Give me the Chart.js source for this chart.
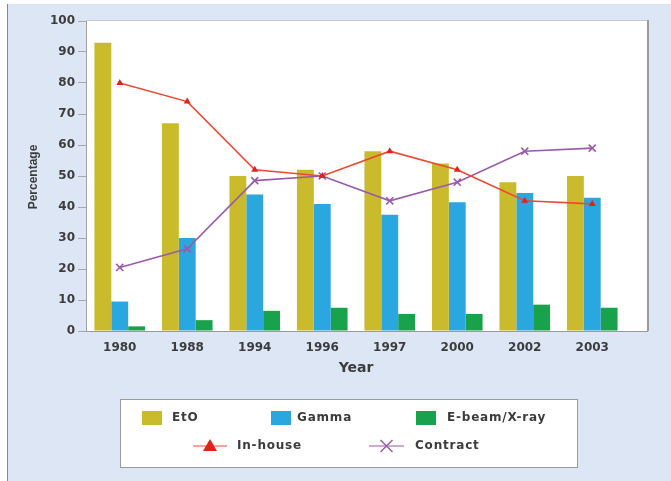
<!DOCTYPE html>
<html>
<head>
<meta charset="utf-8">
<script src="https://cdn.jsdelivr.net/npm/chart.js@4/dist/chart.umd.min.js"></script>
<style>
  html, body { margin: 0; padding: 0; background: #fff; }
  #wrap { width: 671px; height: 481px; }
</style>
</head>
<body>
<div id="wrap"><canvas id="sterilChart" width="671" height="481"></canvas></div>
<script>
// data
const years = ['1980', '1988', '1994', '1996', '1997', '2000', '2002', '2003'];
const etoShare = [93, 67, 50, 52, 58, 54, 48, 50];
const gammaShare = [9.5, 30, 44, 41, 37.5, 41.5, 44.5, 43];
const ebeamShare = [1.5, 3.5, 6.5, 7.5, 5.5, 5.5, 8.5, 7.5];
const inHouse = [80, 74, 52, 50, 58, 52, 42, 41];
const contract = [20.5, 26.5, 48.5, 50, 42, 48, 58, 59];
const yTicks = [0, 10, 20, 30, 40, 50, 60, 70, 80, 90, 100];

const textColor = '#3c3c3c';
const tickFont = { family: 'DejaVu Sans', size: 12, weight: 'bold' };

// page background, plot box, axis titles and the boxed legend
const decor = {
  id: 'decor',
  beforeDraw(chart) {
    const ctx = chart.ctx;
    const area = chart.chartArea;
    ctx.save();
    ctx.fillStyle = '#ffffff';
    ctx.fillRect(0, 0, 671, 481);
    ctx.fillStyle = '#dce6f5';
    ctx.fillRect(8, 4, 663, 477);
    ctx.strokeStyle = '#8a8a8a';
    ctx.lineWidth = 1;
    ctx.beginPath();
    ctx.moveTo(7.5, 4);
    ctx.lineTo(7.5, 481);
    ctx.stroke();

    // white plot box, wider on the right than the category range
    ctx.fillStyle = '#ffffff';
    ctx.fillRect(area.left, area.top - 1, 648 - area.left, area.bottom - area.top + 1);
    ctx.strokeStyle = '#c4c8cc';
    ctx.beginPath();
    ctx.moveTo(area.left, area.top - 0.5);
    ctx.lineTo(648, area.top - 0.5);
    ctx.stroke();
    ctx.strokeStyle = '#9a9a9a';
    ctx.lineWidth = 2;
    ctx.beginPath();
    ctx.moveTo(648, area.top - 1);
    ctx.lineTo(648, area.bottom);
    ctx.stroke();
    ctx.lineWidth = 1;
    ctx.beginPath();
    ctx.moveTo(area.left, area.bottom + 0.5);
    ctx.lineTo(648, area.bottom + 0.5);
    ctx.stroke();

    // axis titles
    ctx.fillStyle = textColor;
    ctx.textAlign = 'center';
    ctx.textBaseline = 'middle';
    ctx.font = 'bold 14px "DejaVu Sans"';
    ctx.fillText('Year', 356, 368);
    ctx.save();
    ctx.translate(34, 177);
    ctx.rotate(-Math.PI / 2);
    ctx.font = 'bold 12px "Liberation Sans"';
    ctx.fillText('Percentage', 0, 0);
    ctx.restore();
    ctx.restore();
  },
  afterDraw(chart) {
    const ctx = chart.ctx;
    const ds = chart.data.datasets;
    ctx.save();
    ctx.fillStyle = '#ffffff';
    ctx.fillRect(120.5, 399.5, 457, 68);
    ctx.strokeStyle = '#9a9a9a';
    ctx.lineWidth = 1;
    ctx.strokeRect(120.5, 399.5, 457, 68);

    ctx.font = 'bold 12px "DejaVu Sans"';
    ctx.letterSpacing = '0.8px';
    ctx.textBaseline = 'middle';
    ctx.textAlign = 'left';

    const boxes = [[142, 172], [271, 297], [416, 447]];
    boxes.forEach((b, i) => {
      ctx.fillStyle = ds[i].backgroundColor;
      ctx.fillRect(b[0], 411, 20, 14);
      ctx.fillStyle = textColor;
      ctx.fillText(ds[i].label, b[1], 418);
    });

    const lines = [[193, 227, 237], [369, 404, 415]];
    lines.forEach((l, j) => {
      const d = ds[3 + j];
      const y = 446;
      ctx.strokeStyle = d.borderColor;
      ctx.lineWidth = 1.2;
      ctx.beginPath();
      ctx.moveTo(l[0], y);
      ctx.lineTo(l[1], y);
      ctx.stroke();
      const mx = (l[0] + l[1]) / 2;
      if (j === 0) {
        ctx.fillStyle = '#e32119';
        ctx.beginPath();
        ctx.moveTo(mx, y - 7);
        ctx.lineTo(mx + 7, y + 5);
        ctx.lineTo(mx - 7, y + 5);
        ctx.closePath();
        ctx.fill();
      } else {
        ctx.lineWidth = 1.5;
        ctx.beginPath();
        ctx.moveTo(mx - 6, y - 6);
        ctx.lineTo(mx + 6, y + 6);
        ctx.moveTo(mx + 6, y - 6);
        ctx.lineTo(mx - 6, y + 6);
        ctx.stroke();
      }
      ctx.fillStyle = textColor;
      ctx.fillText(d.label, l[2], y);
    });
    ctx.restore();
  }
};

const chart = new Chart(document.getElementById('sterilChart'), {
  type: 'bar',
  data: {
    labels: years,
    datasets: [
      { label: 'EtO', data: etoShare, backgroundColor: '#c9bb2b', order: 2 },
      { label: 'Gamma', data: gammaShare, backgroundColor: '#2aa7de', order: 2 },
      { label: 'E-beam/X-ray', data: ebeamShare, backgroundColor: '#17a24b', order: 2 },
      {
        type: 'line', label: 'In-house', data: inHouse, order: 0,
        borderColor: '#ea4a32', borderWidth: 1.6, backgroundColor: '#e32119',
        pointStyle: 'triangle', pointRadius: 4, pointBorderWidth: 0, tension: 0
      },
      {
        type: 'line', label: 'Contract', data: contract, order: 1,
        borderColor: '#9a5bab', borderWidth: 1.6, backgroundColor: '#9a5bab',
        pointStyle: 'crossRot', pointRadius: 5, pointBorderWidth: 1.6, tension: 0
      }
    ]
  },
  options: {
    responsive: false,
    animation: false,
    layout: { padding: { left: 0, top: 21, right: 45, bottom: 0 } },
    datasets: {
      bar: { categoryPercentage: 0.75, barPercentage: 1 }
    },
    plugins: {
      legend: { display: false },
      tooltip: { enabled: false }
    },
    scales: {
      x: {
        grid: { display: false, drawTicks: false },
        border: { display: false },
        ticks: { color: textColor, font: tickFont, padding: 10, maxRotation: 0 },
        afterFit(scale) { scale.height = 150; }
      },
      y: {
        min: 0,
        max: 100,
        afterBuildTicks(scale) { scale.ticks = yTicks.map(v => ({ value: v })); },
        grid: { drawOnChartArea: false, tickLength: 8, color: '#a8a8a8' },
        border: { color: '#a0a0a0' },
        ticks: { color: textColor, font: tickFont, padding: 3 },
        afterFit(scale) { scale.width = 86; }
      }
    }
  },
  plugins: [decor]
});
</script>
</body>
</html>
